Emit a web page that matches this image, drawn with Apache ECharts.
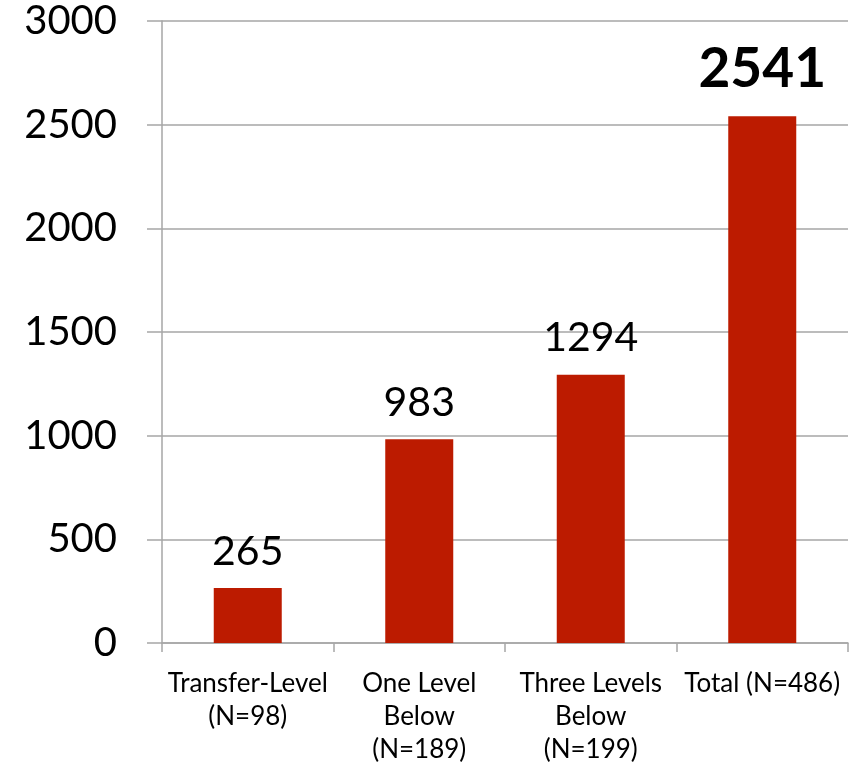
<!DOCTYPE html>
<html>
<head>
<meta charset="utf-8">
<script src="https://cdn.jsdelivr.net/npm/echarts@6/dist/echarts.min.js"></script>
<style>
  html, body { margin: 0; padding: 0; background: #fff; }
  #chart { width: 854px; height: 768px; }
</style>
</head>
<body>
<div id="chart"></div>
<script>
// Course level groups and their counts
const categories = [
  'Transfer-Level\n(N=98)',
  'One Level\nBelow\n(N=189)',
  'Three Levels\nBelow\n(N=199)',
  'Total (N=486)'
];
const values = [265, 983, 1294, 2541];
const yTicks = { min: 0, max: 3000, interval: 500 };

const barColor = '#BC1B00';
const axisColor = '#A6A6A6';
const font = 'Lato, "Open Sans", sans-serif';

const seriesData = values.map((v, i) => {
  const isTotal = i === values.length - 1;
  return {
    value: v,
    label: isTotal
      ? { fontWeight: 'bold', fontSize: 55, distance: 19 }
      : { fontWeight: 'normal', fontSize: 41, distance: 16 }
  };
});

const chart = echarts.init(document.getElementById('chart'), null, { renderer: 'canvas' });
chart.setOption({
  animation: false,
  backgroundColor: '#ffffff',
  grid: { left: 162, right: 6, top: 21, bottom: 125, containLabel: false },
  xAxis: {
    type: 'category',
    data: categories,
    boundaryGap: true,
    axisLine: { show: true, lineStyle: { color: axisColor, width: 1.5 } },
    axisTick: { show: true, length: 9, lineStyle: { color: axisColor, width: 1.5 } },
    axisLabel: {
      interval: 0,
      margin: 24,
      color: '#000',
      fontFamily: font,
      fontSize: 26,
      lineHeight: 33,
      align: 'center'
    },
    splitLine: { show: false }
  },
  yAxis: {
    type: 'value',
    min: yTicks.min,
    max: yTicks.max,
    interval: yTicks.interval,
    axisLine: { show: true, lineStyle: { color: axisColor, width: 1.5 } },
    axisTick: { show: true, length: 15, lineStyle: { color: axisColor, width: 1.5 } },
    axisLabel: {
      margin: 45,
      color: '#000',
      fontFamily: font,
      fontSize: 40,
      formatter: (v) => String(v)
    },
    splitLine: { show: true, lineStyle: { color: axisColor, width: 1.5 } }
  },
  series: [{
    type: 'bar',
    data: seriesData,
    barWidth: 68,
    itemStyle: { color: barColor },
    label: {
      show: true,
      position: 'top',
      color: '#000',
      fontFamily: font
    }
  }]
});
</script>
</body>
</html>
